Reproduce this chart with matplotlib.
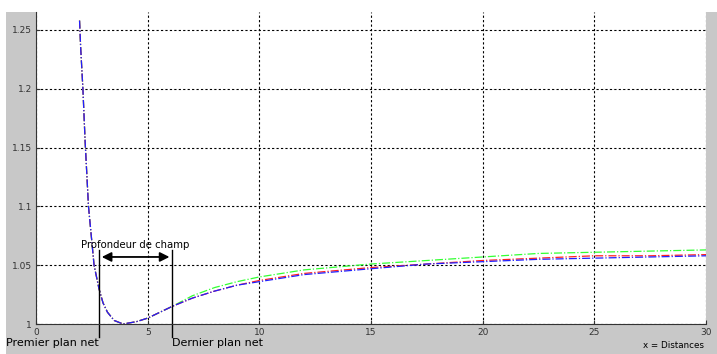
import numpy as np
import matplotlib.pyplot as plt
from matplotlib.patches import Rectangle

# distances et valeurs
x = [1.95, 2.0, 2.1, 2.2, 2.35, 2.6, 2.82, 3.0, 3.2, 3.5, 3.9, 4.5, 5.0, 6.1,
     7.0, 8.0, 9.0, 10.0, 12.0, 15.0, 17.5, 20.0, 22.5, 25.0, 27.5, 30.0]
y_rouge = [1.258, 1.235, 1.200, 1.155, 1.100, 1.050, 1.030, 1.018, 1.010, 1.003,
           1.000, 1.002, 1.005, 1.015, 1.022, 1.028, 1.033, 1.037, 1.043, 1.048,
           1.051, 1.054, 1.056, 1.058, 1.058, 1.059]
y_vert = [1.258, 1.235, 1.200, 1.155, 1.100, 1.050, 1.030, 1.018, 1.010, 1.003,
          1.000, 1.002, 1.005, 1.015, 1.024, 1.031, 1.036, 1.040, 1.046, 1.051,
          1.054, 1.057, 1.060, 1.061, 1.062, 1.063]
y_bleu = [1.258, 1.235, 1.200, 1.155, 1.100, 1.050, 1.030, 1.018, 1.010, 1.003,
          1.000, 1.002, 1.005, 1.015, 1.022, 1.028, 1.033, 1.036, 1.042, 1.047,
          1.051, 1.053, 1.055, 1.056, 1.057, 1.058]

x_premier = 2.82
x_dernier = 6.1
xticks = [0, 5, 10, 15, 20, 25, 30]
yticks = [1, 1.05, 1.1, 1.15, 1.2, 1.25]

fig = plt.figure(figsize=(7.17, 3.54), dpi=100, facecolor='white')
# fond gris (style Matlab)
fig.patches.append(Rectangle((6/717, 0), 1, 342/354, transform=fig.transFigure,
                             facecolor='#c8c8c8', edgecolor='none', zorder=-1))

ax = fig.add_axes([36/717, 30/354, 670/717, 312/354])
ax.set_facecolor('white')

ax.plot(x, y_vert, color='#33ff33', ls='-.', lw=0.9)
ax.plot(x, y_rouge, color='#ff2020', ls='-.', lw=0.9)
ax.plot(x, y_bleu, color='#2020ff', ls='-.', lw=0.9)

ax.set_xlim(0, 30)
ax.set_ylim(1, 1.2653)
ax.set_xticks(xticks)
ax.set_yticks(yticks)
ax.set_xticklabels([str(t) for t in xticks])
ax.set_yticklabels(['1', '1.05', '1.1', '1.15', '1.2', '1.25'])
ax.grid(True, color='black', ls=(0, (2, 2)), lw=0.8)
ax.tick_params(direction='in', length=3, labelsize=6.5, colors='#333333',
               pad=3)
for s in ['top', 'right']:
    ax.spines[s].set_visible(False)
ax.spines['left'].set_color('#333333')
ax.spines['bottom'].set_color('#333333')

# profondeur de champ
for xv in [x_premier, x_dernier]:
    ax.plot([xv, xv], [0.989, 1.063], color='black', lw=1, clip_on=False)
ax.annotate('', xy=(x_premier, 1.057), xytext=(x_dernier, 1.057),
            arrowprops=dict(arrowstyle='<|-|>', color='black', lw=1.3,
                            mutation_scale=14))
ax.text((x_premier + x_dernier) / 2, 1.063, 'Profondeur de champ',
        ha='center', va='bottom', fontsize=7.3)
ax.text(x_premier, 0.9885, 'Premier plan net', ha='right', va='top',
        fontsize=8, clip_on=False)
ax.text(x_dernier, 0.9885, 'Dernier plan net', ha='left', va='top',
        fontsize=8, clip_on=False)
ax.text(29.9, 0.9855, 'x = Distances', ha='right', va='top', fontsize=6.3,
        clip_on=False)

plt.savefig('out.png', dpi=100)
